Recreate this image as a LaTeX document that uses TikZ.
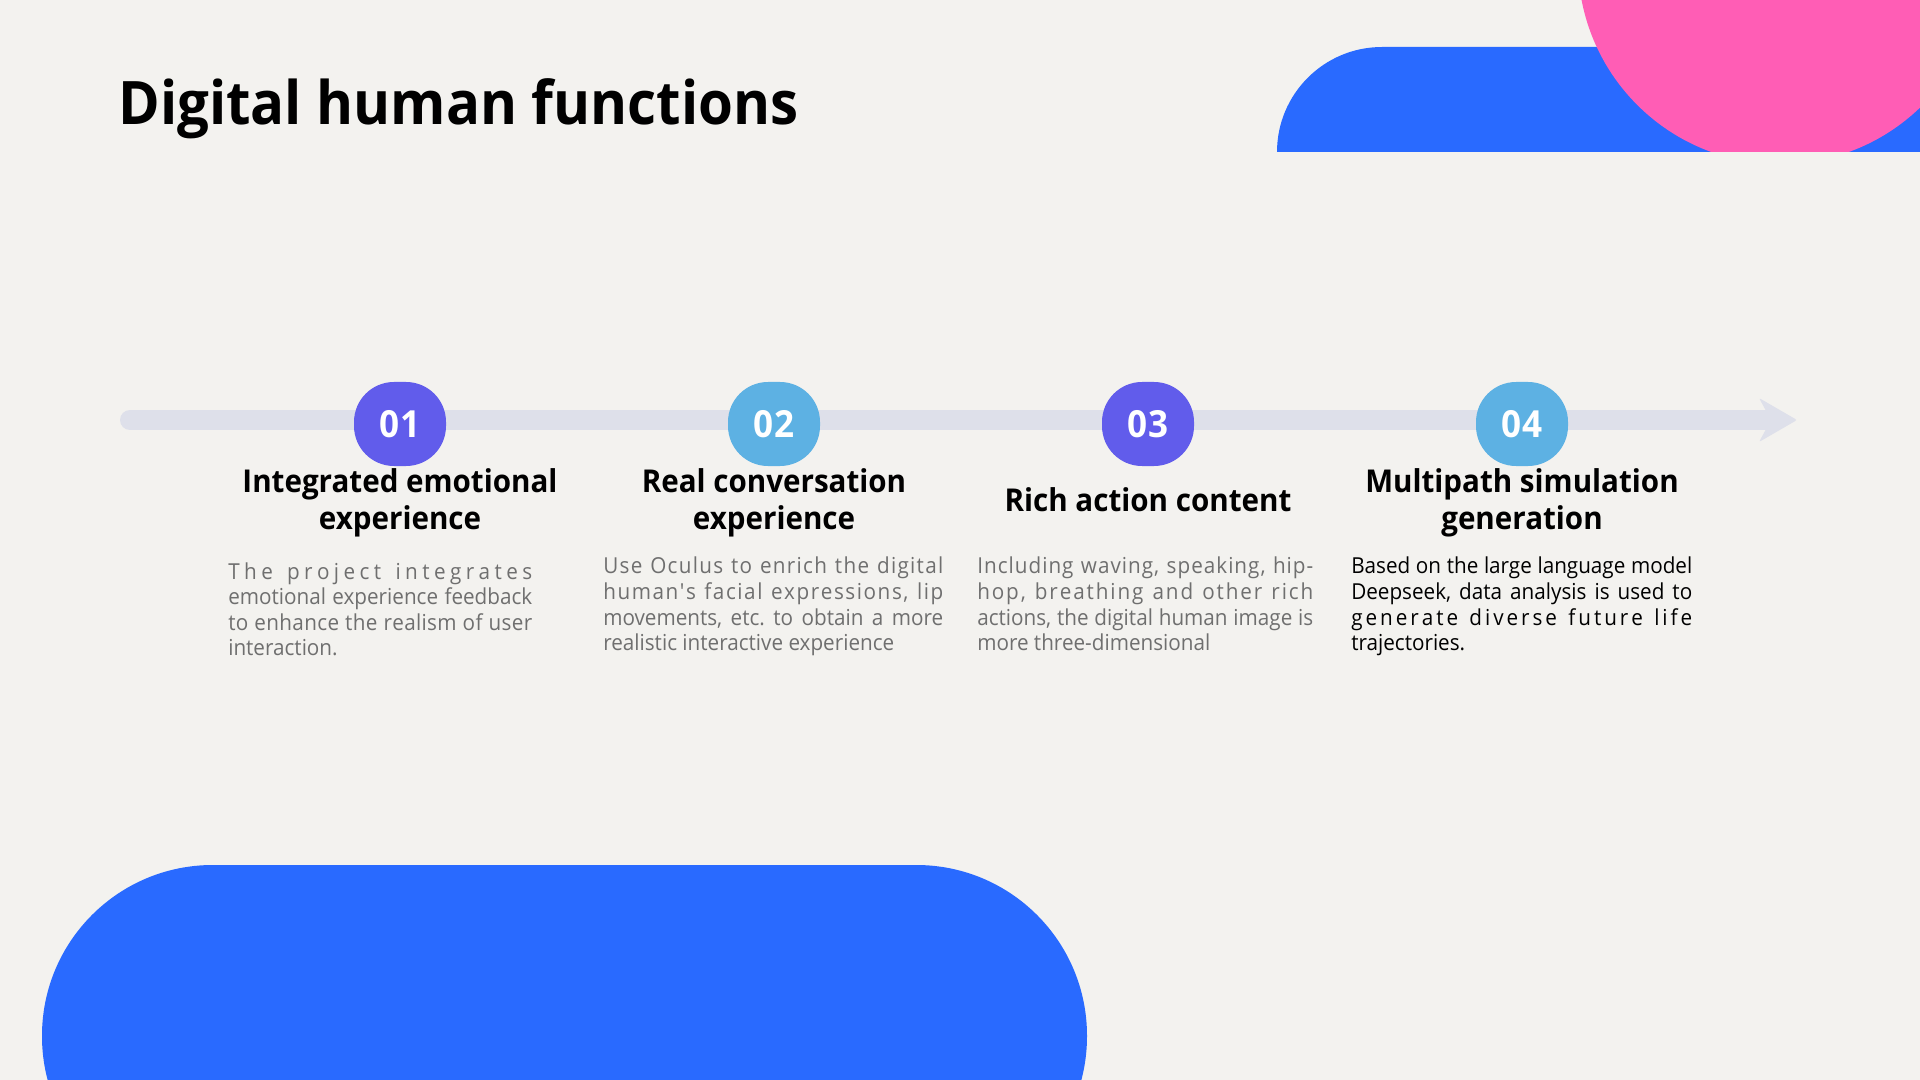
\documentclass[tikz,border=0pt]{standalone}
\usepackage{fontspec}
\setmainfont{Open Sans}[FakeStretch=0.94, Ligatures=TeXOff]

% one unit = one pixel of a 1920 x 1080 slide
\newdimen\pxu \pxu=0.75pt

% set a line to an exact width, spreading the gaps between all characters
% (write spaces as ~ inside the argument)
\def\lsend{lsend-marker}
\def\lsfirst#1{#1\lsloop}
\def\lsloop#1{\ifx#1\lsend\else\hskip 0pt plus 1fil\relax#1\expandafter\lsloop\fi}
\newcommand\lsfit[2]{\hbox to #1\pxu{\lsfirst#2\lsend}}
% set a line to an exact width by stretching word spaces only
\newcommand\wsfit[2]{\makebox[#1\pxu][s]{#2}}
% straight apostrophe
\newcommand\sq{\char"27\relax}

\definecolor{slidebg}{HTML}{F3F2EF}
\definecolor{brandblue}{HTML}{296AFF}
\definecolor{brandpink}{HTML}{FF5DB5}
\definecolor{badgeviolet}{HTML}{615CEB}
\definecolor{badgesky}{HTML}{5DB1E3}
\definecolor{trackgrey}{HTML}{DEE0EA}
\definecolor{bodygrey}{HTML}{6F6F6F}

\begin{document}
\frenchspacing
\begin{tikzpicture}[x=0.75pt,y=-0.75pt,
  slidetitle/.style={inner sep=0pt, anchor=base west, text=black,
    font=\bfseries\fontsize{45}{54}\selectfont},
  badge/.style={rectangle, rounded corners=30pt, minimum width=69pt,
    minimum height=63pt, inner sep=0pt, text=white,
    font=\bfseries\fontsize{28}{28}\selectfont},
  violetbadge/.style={badge, fill=badgeviolet},
  skybadge/.style={badge, fill=badgesky},
  heading/.style={inner sep=0pt, anchor=base, text=black,
    font=\bfseries\fontsize{23.6}{28}\selectfont},
  bodyline/.style={inner sep=0pt, anchor=base west, text=bodygrey,
    font=\fontsize{16.5}{20}\selectfont},
  darkline/.style={bodyline, text=black},
  track/.style={draw=trackgrey, line width=15pt, line cap=round}
]
\useasboundingbox (0,0) rectangle (1920,1080);
\fill[slidebg] (0,0) rectangle (1920,1080);

% decorative shapes, top right
\begin{scope}
  \clip (0,0) rectangle (1920,152);
  \fill[brandblue] (1277,152) arc[start angle=180, end angle=270, radius=105]
    -- (1920,47) -- (1920,152) -- cycle;
  \fill[brandpink] (1780,-38) circle[radius=202];
\end{scope}

% decorative shape, bottom left
\begin{scope}
  \clip (0,0) rectangle (1920,1080);
  \fill[brandblue, rounded corners=128pt] (42,865) rectangle (1087,1207);
\end{scope}

% title
\node[slidetitle] (title) at (118,125) {Digital human functions};

% timeline
\coordinate (tstart) at (130,420);
\coordinate (tend) at (1768,420);
\draw[track] (tstart) -- (tend);
\fill[trackgrey, rounded corners=1.5pt] (1759,398) -- (1797,420) -- (1759,442) -- (1771,420) -- cycle;

% step badges
\node[violetbadge] (b1) at (400,424) {01};
\node[skybadge]    (b2) at (774,424) {02};
\node[violetbadge] (b3) at (1148,424) {03};
\node[skybadge]    (b4) at (1522,424) {04};

% step headings
\node[heading] (h1a) at (400,492.7) {Integrated emotional};
\node[heading] (h1b) at (400,529.5) {experience};
\node[heading] (h2a) at (774,492.7) {Real conversation};
\node[heading] (h2b) at (774,529.5) {experience};
\node[heading] (h3a) at (1148,511.7) {Rich action content};
\node[heading] (h4a) at (1522,492.7) {Multipath simulation};
\node[heading] (h4b) at (1522,529.5) {generation};

% step descriptions
\node[bodyline] (d1a) at (228,579) {\lsfit{304}{The~project~integrates}};
\node[bodyline] (d1b) at (228,604.5) {\wsfit{304}{emotional experience feedback}};
\node[bodyline] (d1c) at (228,630) {\lsfit{304}{to~enhance~the~realism~of~user}};
\node[bodyline] (d1d) at (228,655.5) {interaction.};

\node[bodyline] (d2a) at (603,573.3) {\lsfit{340}{Use~Oculus~to~enrich~the~digital}};
\node[bodyline] (d2b) at (603,599.5) {\lsfit{340}{human\sq s~facial~expressions,~lip}};
\node[bodyline] (d2c) at (603,625) {\wsfit{340}{movements, etc. to obtain a more}};
\node[bodyline] (d2d) at (603,650.5) {realistic interactive experience};

\node[bodyline] (d3a) at (977,573.3) {\lsfit{336}{Including~waving,~speaking,~hip-}};
\node[bodyline] (d3b) at (977,599.5) {\lsfit{336}{hop,~breathing~and~other~rich}};
\node[bodyline] (d3c) at (977,625) {\wsfit{336}{actions, the digital human image is}};
\node[bodyline] (d3d) at (977,650.5) {more three-dimensional};

\node[darkline] (d4a) at (1351,573.3) {\wsfit{341}{Based on the large language model}};
\node[darkline] (d4b) at (1351,599.5) {\wsfit{341}{Deepseek, data analysis is used to}};
\node[darkline] (d4c) at (1351,625) {\lsfit{341}{generate~diverse~future~life}};
\node[darkline] (d4d) at (1351,650.5) {trajectories.};
\end{tikzpicture}
\end{document}
